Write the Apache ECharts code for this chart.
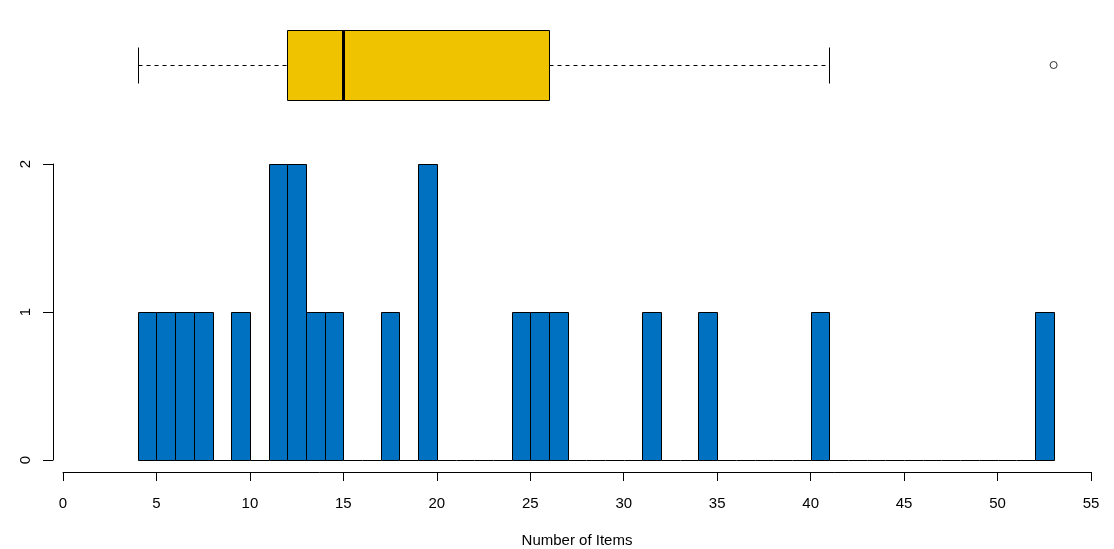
<!DOCTYPE html>
<html style="height: 100%">
<head>
<meta charset="UTF-8">
<script src="https://cdn.jsdelivr.net/npm/echarts@6/dist/echarts.min.js"></script>
</head>
<body style="height: 100%; margin: 0; background: #fff">
<div id="container" style="width: 1114px; height: 549px"></div>
<script type="text/javascript">
// histogram bins: left edge of each 1-unit bin and its count
var binStarts = [4,5,6,7,8,9,10,11,12,13,14,15,16,17,18,19,20,21,22,23,24,25,26,27,28,29,30,31,32,33,34,35,36,37,38,39,40,41,42,43,44,45,46,47,48,49,50,51,52];
var binCounts = [1,1,1,1,0,1,0,2,2,1,1,0,0,1,0,2,0,0,0,0,1,1,1,0,0,0,0,1,0,0,1,0,0,0,0,0,1,0,0,0,0,0,0,0,0,0,0,0,1];
// boxplot: lower whisker, Q1, median, Q3, upper whisker
var boxStats = [4, 12, 15, 26, 41];
var outliers = [53];
var xTicks = [0, 55, 5];   // min, max, step
var yTicks = [0, 2, 1];

var histData = [];
for (var i = 0; i < binStarts.length; i++) {
  histData.push([binStarts[i], binStarts[i] + 1, binCounts[i]]);
}

var font = '"Liberation Sans", Arial, sans-serif';
var dom = document.getElementById('container');
var myChart = echarts.init(dom);

// snap 1px lines onto pixel centres so they stay crisp
function px(v) { return Math.round(v) + 0.5; }

var option = {
  animation: false,
  backgroundColor: '#fff',
  grid: [
    { left: 63, right: 23, top: 20, height: 90, outerBoundsMode: 'none' },
    { left: 63, right: 23, top: 164, bottom: 89, outerBoundsMode: 'none' }
  ],
  xAxis: [
    { gridIndex: 0, type: 'value', min: xTicks[0], max: xTicks[1], show: false },
    {
      gridIndex: 1, type: 'value', min: xTicks[0], max: xTicks[1], interval: xTicks[2],
      offset: 12,
      name: 'Number of Items', nameLocation: 'middle', nameGap: 61, nameMoveOverlap: false,
      nameTextStyle: { fontFamily: font, fontSize: 15, color: '#000' },
      axisLine: { show: true, onZero: false, lineStyle: { color: '#000', width: 1 } },
      axisTick: { show: true, length: 9, lineStyle: { color: '#000' } },
      axisLabel: { margin: 24, fontFamily: font, fontSize: 15, color: '#000' },
      splitLine: { show: false }
    }
  ],
  yAxis: [
    { gridIndex: 0, type: 'value', min: -1, max: 1, show: false },
    {
      gridIndex: 1, type: 'value', min: yTicks[0], max: yTicks[1], interval: yTicks[2],
      offset: 10,
      axisLine: { show: true, onZero: false, lineStyle: { color: '#000', width: 1 } },
      axisTick: { show: true, length: 10, lineStyle: { color: '#000' } },
      axisLabel: { margin: 20, rotate: 90, fontFamily: font, fontSize: 15, color: '#000' },
      splitLine: { show: false }
    }
  ],
  series: [
    {
      type: 'custom',
      xAxisIndex: 1, yAxisIndex: 1,
      data: histData,
      encode: { x: [0, 1], y: 2 },
      renderItem: function (params, api) {
        var p0 = api.coord([api.value(0), api.value(2)]);
        var p1 = api.coord([api.value(1), 0]);
        var x0 = px(p0[0]), x1 = px(p1[0]), y0 = px(p0[1]), y1 = px(p1[1]);
        if (api.value(2) === 0) {
          return {
            type: 'line',
            shape: { x1: x0, y1: y1, x2: x1, y2: y1 },
            style: { stroke: '#000', lineWidth: 1 }
          };
        }
        return {
          type: 'rect',
          shape: { x: x0, y: y0, width: x1 - x0, height: y1 - y0 },
          style: { fill: '#0070C0', stroke: '#000', lineWidth: 1 }
        };
      }
    },
    {
      type: 'custom',
      xAxisIndex: 0, yAxisIndex: 0,
      data: [boxStats],
      encode: { x: [0, 1, 2, 3, 4] },
      renderItem: function (params, api) {
        var boxHalf = 0.77, capHalf = 0.4;
        var lo = px(api.coord([api.value(0), 0])[0]);
        var q1 = px(api.coord([api.value(1), 0])[0]);
        var md = Math.round(api.coord([api.value(2), 0])[0]);
        var q3 = px(api.coord([api.value(3), 0])[0]);
        var hi = px(api.coord([api.value(4), 0])[0]);
        var cy = px(api.coord([0, 0])[1]);
        var boxTop = px(api.coord([0, boxHalf])[1]);
        var boxBot = px(api.coord([0, -boxHalf])[1]);
        var capTop = px(api.coord([0, capHalf])[1]);
        var capBot = px(api.coord([0, -capHalf])[1]);
        var solid = { stroke: '#000', lineWidth: 1 };
        var dashed = { stroke: '#000', lineWidth: 1, lineDash: [4, 4] };
        return {
          type: 'group',
          children: [
            { type: 'line', shape: { x1: lo, y1: cy, x2: q1, y2: cy }, style: dashed },
            { type: 'line', shape: { x1: q3, y1: cy, x2: hi, y2: cy }, style: dashed },
            { type: 'line', shape: { x1: lo, y1: capTop, x2: lo, y2: capBot }, style: solid },
            { type: 'line', shape: { x1: hi, y1: capTop, x2: hi, y2: capBot }, style: solid },
            { type: 'rect', shape: { x: q1, y: boxTop, width: q3 - q1, height: boxBot - boxTop },
              style: { fill: '#F0C300', stroke: '#000', lineWidth: 1 } },
            { type: 'line', shape: { x1: md + 0.5, y1: boxTop, x2: md + 0.5, y2: boxBot },
              style: { stroke: '#000', lineWidth: 3 } }
          ]
        };
      }
    },
    {
      type: 'scatter',
      xAxisIndex: 0, yAxisIndex: 0,
      data: outliers.map(function (v) { return [v, 0]; }),
      symbol: 'circle',
      symbolSize: 7,
      itemStyle: { color: '#fff', borderColor: '#000', borderWidth: 1 }
    }
  ]
};

myChart.setOption(option, true);
</script>
</body>
</html>
